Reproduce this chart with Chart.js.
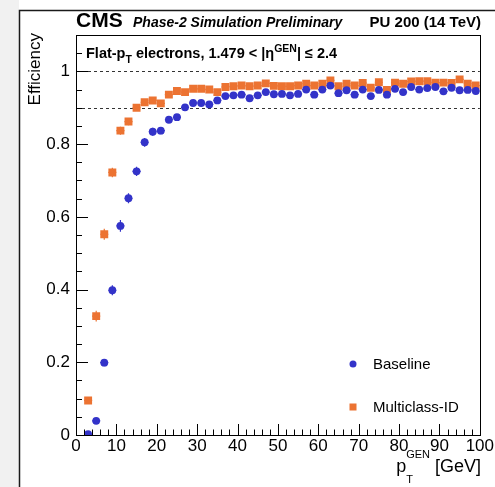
<!DOCTYPE html>
<html>
<head>
<meta charset="utf-8">
<script src="https://cdn.jsdelivr.net/npm/chart.js@4.4.1/dist/chart.umd.min.js"></script>
<style>
  html, body { margin: 0; padding: 0; background: #fff; }
  #wrap { width: 495px; height: 487px; }
</style>
</head>
<body>
<div id="wrap"><canvas id="myChart" width="495" height="487"></canvas></div>
<script>
// bin centres (GeV)
const pt = [3, 5, 7, 9, 11, 13, 15, 17, 19, 21, 23, 25, 27, 29, 31, 33, 35, 37, 39, 41,
  43, 45, 47, 49, 51, 53, 55, 57, 59, 61, 63, 65, 67, 69, 71, 73, 75, 77, 79, 81,
  83, 85, 87, 89, 91, 93, 95, 97, 99];

const baseline = [0.002, 0.039, 0.199, 0.398, 0.575, 0.651, 0.725, 0.805, 0.834, 0.837,
  0.867, 0.874, 0.901, 0.913, 0.913, 0.909, 0.920, 0.932, 0.934, 0.936,
  0.926, 0.934, 0.943, 0.937, 0.938, 0.934, 0.938, 0.950, 0.936, 0.950,
  0.961, 0.940, 0.948, 0.936, 0.950, 0.932, 0.949, 0.936, 0.952, 0.943,
  0.957, 0.950, 0.954, 0.957, 0.945, 0.955, 0.948, 0.949, 0.946];
const baselineErr = [0.003, 0.006, 0.010, 0.014, 0.016, 0.014, 0.013, 0.012, 0.011, 0.010,
  0.009, 0.009, 0.008, 0.008, 0.008, 0.008, 0.007, 0.007, 0.007, 0.007,
  0.007, 0.007, 0.006, 0.006, 0.006, 0.006, 0.006, 0.006, 0.006, 0.006,
  0.006, 0.006, 0.006, 0.006, 0.006, 0.006, 0.006, 0.006, 0.006, 0.006,
  0.006, 0.006, 0.006, 0.006, 0.006, 0.006, 0.006, 0.006, 0.006];

const multiclass = [0.095, 0.327, 0.552, 0.722, 0.837, 0.862, 0.900, 0.915, 0.920, 0.912,
  0.936, 0.946, 0.943, 0.952, 0.952, 0.950, 0.943, 0.957, 0.959, 0.961,
  0.959, 0.961, 0.967, 0.960, 0.959, 0.959, 0.961, 0.966, 0.961, 0.966,
  0.975, 0.959, 0.966, 0.961, 0.968, 0.955, 0.970, 0.949, 0.969, 0.966,
  0.972, 0.973, 0.973, 0.969, 0.969, 0.968, 0.978, 0.966, 0.961];
const multiclassErr = [0.006, 0.015, 0.015, 0.013, 0.011, 0.010, 0.009, 0.008, 0.008, 0.008,
  0.007, 0.007, 0.006, 0.006, 0.006, 0.006, 0.006, 0.005, 0.005, 0.005,
  0.005, 0.005, 0.005, 0.005, 0.005, 0.005, 0.005, 0.005, 0.005, 0.005,
  0.005, 0.005, 0.005, 0.005, 0.005, 0.005, 0.005, 0.005, 0.005, 0.005,
  0.005, 0.005, 0.005, 0.005, 0.005, 0.005, 0.005, 0.005, 0.005];

const binHalfWidth = 1;
const xTicks = [0, 10, 20, 30, 40, 50, 60, 70, 80, 90, 100];
const yTicks = [0, 0.2, 0.4, 0.6, 0.8, 1];
const refLines = [0.9, 1.0];
const seriesNames = ['Baseline', 'Multiclass-ID'];

const BLUE = '#3333c9';
const ORANGE = '#ec7332';
const FONT = '"Liberation Sans", Arial, Helvetica, sans-serif';

function drawRich(ctx, parts, x, y) {
  // parts: [text, fontSize, weight/style, dy]
  let cx = x;
  parts.forEach(p => {
    ctx.font = p[2] + ' ' + p[1] + 'px ' + FONT;
    ctx.fillText(p[0], cx, y + p[3]);
    cx += ctx.measureText(p[0]).width;
  });
  return cx;
}
function richWidth(ctx, parts) {
  let w = 0;
  parts.forEach(p => {
    ctx.font = p[2] + ' ' + p[1] + 'px ' + FONT;
    w += ctx.measureText(p[0]).width;
  });
  return w;
}

const decor = {
  id: 'decor',
  beforeDraw(chart) {
    const ctx = chart.ctx;
    ctx.save();
    ctx.fillStyle = '#fff';
    ctx.fillRect(0, 0, chart.width, chart.height);
    ctx.fillStyle = '#f1f1f1';
    ctx.fillRect(0, 0, 19, chart.height);
    ctx.strokeStyle = '#1a1a1a';
    ctx.lineWidth = 1.5;
    ctx.beginPath();
    ctx.moveTo(19.5, chart.height);
    ctx.lineTo(19.5, 10.5);
    ctx.lineTo(chart.width, 10.5);
    ctx.stroke();
    ctx.restore();
  },
  beforeDatasetsDraw(chart) {
    const ctx = chart.ctx;
    const xs = chart.scales.x, ys = chart.scales.y;
    const a = chart.chartArea;
    ctx.save();
    // dashed reference lines
    ctx.strokeStyle = '#333';
    ctx.lineWidth = 1;
    ctx.setLineDash([3, 3]);
    refLines.forEach(v => {
      const py = Math.round(ys.getPixelForValue(v)) + 0.5;
      ctx.beginPath();
      ctx.moveTo(a.left, py);
      ctx.lineTo(a.right, py);
      ctx.stroke();
    });
    ctx.setLineDash([]);
    // error bars
    const errs = [baselineErr, multiclassErr];
    chart.data.datasets.forEach((ds, i) => {
      ctx.strokeStyle = ds.borderColor;
      ctx.lineWidth = 1.2;
      ds.data.forEach((d, j) => {
        const px = xs.getPixelForValue(d.x);
        const py = ys.getPixelForValue(d.y);
        ctx.beginPath();
        ctx.moveTo(px, ys.getPixelForValue(d.y - errs[i][j]));
        ctx.lineTo(px, ys.getPixelForValue(d.y + errs[i][j]));
        ctx.moveTo(xs.getPixelForValue(d.x - binHalfWidth), py);
        ctx.lineTo(xs.getPixelForValue(d.x + binHalfWidth), py);
        ctx.stroke();
      });
    });
    ctx.restore();
  },
  afterDraw(chart) {
    const ctx = chart.ctx;
    const xs = chart.scales.x, ys = chart.scales.y;
    const a = chart.chartArea;
    ctx.save();
    // frame
    ctx.strokeStyle = '#000';
    ctx.lineWidth = 1;
    ctx.strokeRect(Math.round(a.left) + 0.5, Math.round(a.top) + 0.5,
      Math.round(a.right - a.left), Math.round(a.bottom - a.top));
    // inward ticks
    ctx.beginPath();
    for (let v = 0; v <= 100; v += 2) {
      const px = Math.round(xs.getPixelForValue(v)) + 0.5;
      const len = (v % 10 === 0) ? 11 : 5.5;
      ctx.moveTo(px, a.bottom);
      ctx.lineTo(px, a.bottom - len);
    }
    for (let k = 0; k <= 22; k++) {
      const v = k * 0.05;
      const py = Math.round(ys.getPixelForValue(v)) + 0.5;
      const len = (k % 4 === 0) ? 12 : 6;
      ctx.moveTo(a.left, py);
      ctx.lineTo(a.left + len, py);
    }
    ctx.stroke();

    ctx.fillStyle = '#000';
    ctx.textBaseline = 'alphabetic';
    // header
    ctx.textAlign = 'left';
    ctx.font = 'bold 21px ' + FONT;
    ctx.fillText('CMS', 76, 27);
    ctx.font = 'italic bold 14px ' + FONT;
    ctx.fillText('Phase-2 Simulation Preliminary', 133, 27);
    ctx.textAlign = 'right';
    ctx.font = 'bold 15px ' + FONT;
    ctx.fillText('PU 200 (14 TeV)', 481, 27);
    ctx.textAlign = 'left';

    // selection label
    drawRich(ctx, [
      ['Flat-p', 14.5, 'bold', 0],
      ['T', 10.5, 'bold', 5],
      [' electrons, 1.479 < |\u03b7', 14.5, 'bold', 0],
      ['GEN', 10.5, 'bold', -6],
      ['| \u2264 2.4', 14.5, 'bold', 0]
    ], 86, 58);

    // y title
    ctx.save();
    ctx.translate(40, 33);
    ctx.rotate(-Math.PI / 2);
    ctx.textAlign = 'right';
    ctx.font = '17px ' + FONT;
    ctx.fillText('Efficiency', 0, 0);
    ctx.restore();

    // x title
    const xt = [
      ['p', 18, 'normal', 0],
      ['GEN', 11, 'normal', -14],
      [' [GeV]', 18, 'normal', 0]
    ];
    const w = richWidth(ctx, xt);
    const x0 = 481 - w;
    drawRich(ctx, xt, x0, 472);
    ctx.font = '11px ' + FONT;
    ctx.fillText('T', x0 + 10, 483);

    // legend
    ctx.fillStyle = BLUE;
    ctx.beginPath();
    ctx.arc(353, 364, 3.5, 0, Math.PI * 2);
    ctx.fill();
    ctx.fillStyle = ORANGE;
    ctx.fillRect(349.5, 403.5, 7, 7);
    ctx.fillStyle = '#000';
    ctx.font = '15px ' + FONT;
    ctx.fillText(seriesNames[0], 373, 369);
    ctx.fillText(seriesNames[1], 373, 412);
    ctx.restore();
  }
};

window.onload = function() {
  const ctx = document.getElementById('myChart').getContext('2d');
  Chart.defaults.font.family = FONT;
  Chart.defaults.font.size = 17;
  Chart.defaults.color = '#000';
  new Chart(ctx, {
    type: 'scatter',
    data: {
      datasets: [
        {
          label: seriesNames[0],
          data: pt.map((x, i) => ({ x: x, y: baseline[i] })),
          backgroundColor: BLUE,
          borderColor: BLUE,
          pointStyle: 'circle',
          pointRadius: 3.9,
          borderWidth: 0,
        },
        {
          label: seriesNames[1],
          data: pt.map((x, i) => ({ x: x, y: multiclass[i] })),
          backgroundColor: ORANGE,
          borderColor: ORANGE,
          pointStyle: 'rect',
          pointRadius: 5.6,
          borderWidth: 0,
        },
      ],
    },
    options: {
      responsive: false,
      animation: false,
      layout: { padding: { left: 0, right: 15, top: 35, bottom: 0 } },
      plugins: {
        legend: { display: false },
        tooltip: { enabled: false },
      },
      scales: {
        x: {
          type: 'linear',
          min: 0,
          max: 100,
          afterBuildTicks: s => { s.ticks = xTicks.map(v => ({ value: v })); },
          afterFit: s => { s.height = 52; },
          grid: { display: false, drawTicks: false },
          border: { display: false },
          ticks: { padding: 1, maxRotation: 0, font: { size: 17 } },
        },
        y: {
          type: 'linear',
          min: 0,
          max: 1.1,
          afterBuildTicks: s => { s.ticks = yTicks.map(v => ({ value: v })); },
          afterFit: s => { s.width = 76; },
          grid: { display: false, drawTicks: false },
          border: { display: false },
          ticks: { padding: 6, font: { size: 17 }, callback: v => String(Math.round(v * 10) / 10) },
        },
      },
    },
    plugins: [decor],
  });
};
</script>
</body>
</html>
